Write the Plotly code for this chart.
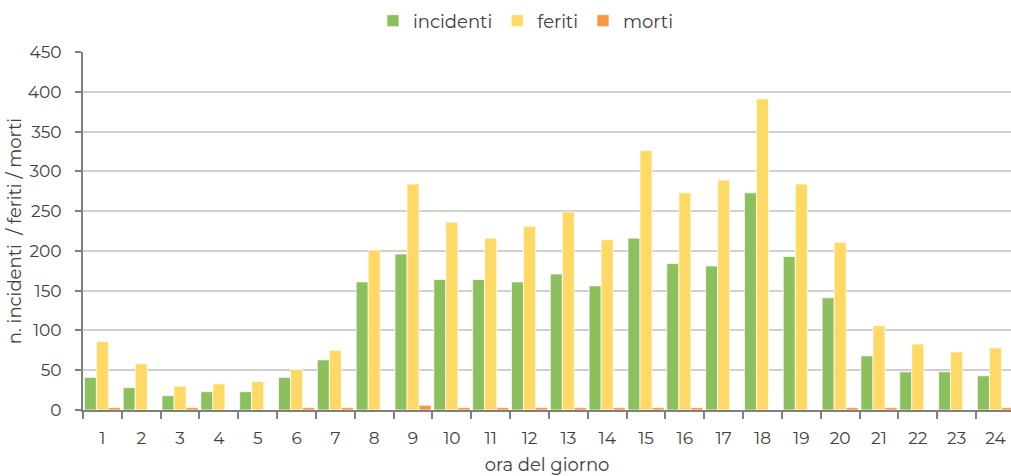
import plotly.graph_objects as go

ore = [str(h) for h in range(1, 25)]
incidenti = [41, 28, 18, 23, 23, 41, 63, 161, 196, 164, 164, 161,
             171, 156, 216, 184, 181, 273, 193, 141, 68, 48, 48, 43]
feriti = [86, 58, 30, 33, 36, 51, 75, 201, 284, 236, 216, 231,
          249, 214, 326, 273, 289, 391, 284, 211, 106, 83, 73, 78]
morti = [3, 0, 3, 0, 0, 3, 3, 0, 6, 3, 3, 3,
         3, 3, 3, 3, 0, 0, 0, 3, 3, 0, 0, 3]

font = "Montserrat, Open Sans, sans-serif"
txt = "#404040"
asse = "#808080"

fig = go.Figure()
for nome, vals, col in [("incidenti", incidenti, "#8CC05E"),
                        ("feriti", feriti, "#FFD966"),
                        ("morti", morti, "#F79646")]:
    fig.add_trace(go.Bar(
        x=ore, y=vals, name=nome,
        marker=dict(color=col, line=dict(color="white", width=0.7)),
    ))

fig.update_layout(
    barmode="group",
    bargap=0.07,
    bargroupgap=0,
    width=1011, height=476,
    margin=dict(l=83, r=0, t=52, b=66, autoexpand=False),
    paper_bgcolor="white",
    plot_bgcolor="white",
    font=dict(family=font, size=17, color=txt),
    legend=dict(orientation="h", x=526 / 1011, xanchor="center", xref="container",
                y=1 - 21 / 476, yanchor="middle", yref="container",
                font=dict(size=18), itemwidth=30, traceorder="normal"),
    xaxis=dict(
        type="category",
        range=[-0.5, 23.4],
        showline=True, linecolor=asse, linewidth=2,
        ticks="outside", tickson="boundaries", ticklen=7, tickcolor=asse,
        tickwidth=2, ticklabelstandoff=12,
        title=dict(text="ora del giorno", font=dict(size=18), standoff=12),
        tickfont=dict(size=17),
    ),
    yaxis=dict(
        range=[0, 450], dtick=50,
        showgrid=True, gridcolor="#d0d0d0", gridwidth=1.5,
        showline=True, linecolor=asse, linewidth=2,
        ticks="outside", ticklen=6, tickcolor=asse, tickwidth=1.5,
        ticklabelstandoff=10,
        zeroline=False,
        title=dict(text="n. incidenti  / feriti / morti", font=dict(size=18), standoff=2),
        tickfont=dict(size=17),
    ),
)

# niente margine della pagina, il grafico parte da (0, 0)
fig.write_html("out.html", config={"displayModeBar": False},
               post_script="document.body.style.margin='0';")
